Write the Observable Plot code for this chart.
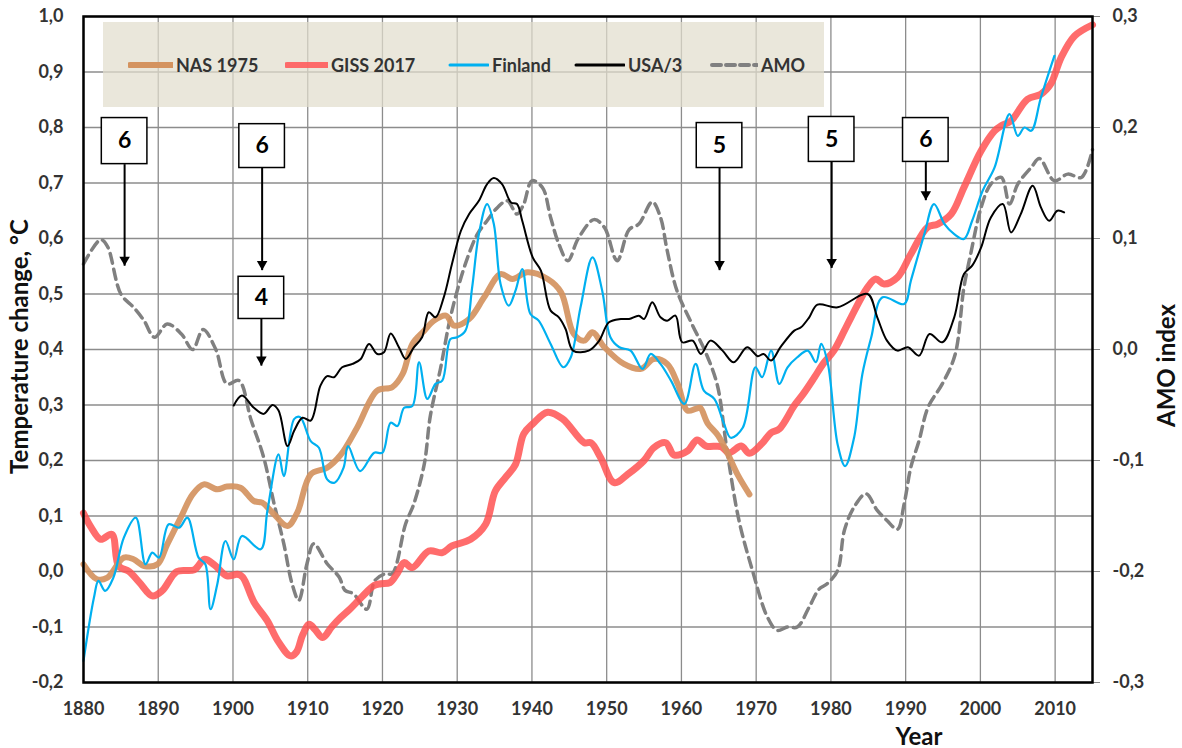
<!DOCTYPE html>
<html><head><meta charset="utf-8">
<script src="https://cdn.jsdelivr.net/npm/d3@7"></script>
<script src="https://cdn.jsdelivr.net/npm/@observablehq/plot@0.6"></script>
<style>
body{margin:0;background:#fff;font-family:Lato,sans-serif;}
#wrap{position:relative;width:1182px;height:748px;}
#legend{position:absolute;left:103px;top:22px;width:721px;height:85px;background:rgba(226,222,205,0.72);}
.item{position:absolute;top:32px;height:22px;display:flex;align-items:center;font:bold 18px Lato,sans-serif;color:#333;white-space:nowrap;}
.item svg{display:block;margin-right:3px;}
</style></head>
<body><div id="wrap"><div id="chart"></div><div id="legend"></div></div>
<script>
// ---- Data ----
const nasYear = [1880,1881.8,1883.2,1885.4,1886.7,1888.1,1889.9,1891.2,1893,1894.6,1896.1,1897.9,1899.2,1901,1902.8,1903.9,1905.3,1907.3,1908.6,1910.4,1912.6,1914.4,1916.6,1919.3,1921.3,1922.7,1924,1925.6,1926.9,1928.5,1929.6,1931.6,1933.6,1935.8,1937.4,1939.4,1942.1,1943.9,1945.6,1947,1948.1,1949.7,1952.3,1954.6,1956.3,1958.1,1959.5,1960.8,1961.9,1962.5,1963.5,1964.9,1966.2,1967.5,1969.1];
const nasTemp = [0.013,-0.014,-0.011,0.025,0.022,0.01,0.013,0.049,0.097,0.139,0.157,0.148,0.153,0.151,0.127,0.124,0.106,0.082,0.106,0.175,0.187,0.21,0.259,0.326,0.332,0.356,0.41,0.434,0.452,0.461,0.443,0.455,0.494,0.536,0.527,0.539,0.527,0.503,0.428,0.416,0.431,0.404,0.374,0.365,0.383,0.374,0.338,0.29,0.293,0.295,0.267,0.245,0.212,0.175,0.139];

const gissYear = [1880,1881,1882.3,1883.8,1884.7,1886.1,1887.5,1889.2,1890.5,1892.5,1894.8,1896.2,1897.5,1899.2,1900.6,1901.3,1902.8,1904.6,1906,1907.7,1908.5,1909.3,1910.2,1911,1912,1913.2,1914.4,1915.7,1917.3,1918.9,1919.8,1921,1922,1922.9,1924,1926.2,1928,1929.3,1931.8,1933.8,1935.1,1936.5,1937.8,1938.9,1940.1,1942.1,1944.1,1947,1947.9,1949.2,1951,1952.8,1955,1956.3,1957.9,1959,1960.8,1962.1,1963.3,1965.3,1966.4,1968,1969.1,1970.8,1972,1973.1,1975.1,1976.3,1977.8,1979,1980.4,1981.8,1982.7,1984.9,1986,1987.1,1988.9,1990.7,1992.9,1994.3,1996.1,1997.8,2000.1,2001.9,2002.8,2004.1,2006.3,2008.1,2009.4,2010.8,2012.6,2015];
const gissTemp = [0.105,0.08,0.058,0.067,0.01,0.0,-0.02,-0.044,-0.035,0.0,0.003,0.022,0.012,-0.008,-0.005,-0.01,-0.055,-0.089,-0.125,-0.152,-0.145,-0.115,-0.095,-0.105,-0.119,-0.1,-0.083,-0.067,-0.045,-0.025,-0.022,-0.02,-0.003,0.016,0.007,0.037,0.034,0.046,0.058,0.085,0.145,0.17,0.193,0.248,0.266,0.287,0.275,0.232,0.232,0.205,0.16,0.175,0.2,0.223,0.232,0.21,0.217,0.237,0.226,0.225,0.214,0.226,0.213,0.231,0.25,0.257,0.299,0.32,0.35,0.375,0.398,0.434,0.458,0.512,0.527,0.518,0.53,0.572,0.62,0.626,0.644,0.692,0.758,0.794,0.803,0.812,0.851,0.86,0.878,0.926,0.965,0.985];

const finYear = [1880,1881.4,1882,1882.9,1884,1885.4,1887,1888.3,1889.2,1890.1,1891.4,1892.8,1893.9,1895.4,1896.3,1897,1897.9,1899,1900.1,1901.2,1903.7,1904.6,1906.1,1906.8,1908.2,1909,1910.4,1911.5,1912.6,1913.6,1914.8,1915.4,1917,1918.9,1920,1921.1,1922,1922.9,1924,1924.9,1926,1927.1,1928,1929.1,1930,1931.1,1932,1932.9,1934,1934.9,1935.8,1936.9,1937.8,1938.7,1939.8,1940.9,1942.5,1944.2,1945.2,1946.5,1948.1,1949.4,1950.5,1951.7,1953.2,1954.8,1955.9,1957.2,1958.6,1960.4,1961.9,1963,1964.4,1965.7,1966.6,1968.2,1969.9,1970.8,1972,1973.1,1974.2,1975.5,1976.9,1978,1978.7,1979.6,1980.9,1981.9,1983.1,1984.2,1985.4,1986.9,1989.8,1990.7,1992.5,1993.8,1995.2,1996.5,1997.8,1998.9,2000.3,2001.9,2003.9,2005,2005.9,2006.8,2008.1,2009.9];
const finTemp = [-0.161,-0.047,-0.017,-0.035,-0.011,0.061,0.097,0.013,0.034,0.025,0.085,0.079,0.097,0.025,0.013,-0.068,-0.023,0.055,0.022,0.064,0.04,0.109,0.211,0.172,0.275,0.278,0.235,0.223,0.166,0.16,0.187,0.226,0.181,0.214,0.214,0.268,0.262,0.295,0.298,0.377,0.311,0.338,0.344,0.419,0.422,0.434,0.512,0.608,0.662,0.626,0.518,0.479,0.506,0.545,0.464,0.452,0.41,0.368,0.386,0.476,0.566,0.506,0.422,0.404,0.398,0.365,0.392,0.374,0.344,0.302,0.374,0.326,0.311,0.266,0.241,0.259,0.368,0.35,0.398,0.338,0.368,0.386,0.398,0.377,0.41,0.374,0.229,0.19,0.241,0.355,0.422,0.494,0.482,0.524,0.608,0.662,0.626,0.608,0.599,0.632,0.686,0.728,0.824,0.785,0.8,0.794,0.854,0.929];

const usaYear = [1900.1,1901.2,1902.8,1904.1,1905.3,1906.1,1907.3,1908.2,1909.3,1910.4,1911.7,1912.6,1913.5,1914.6,1916,1917.1,1918.2,1919.3,1920.2,1921.1,1922.2,1923.1,1924.2,1925.3,1926.2,1927.1,1928.2,1929.3,1930.5,1931.6,1932.9,1934,1934.9,1936,1937.2,1938,1938.7,1940.1,1941.2,1942.5,1943.6,1944.5,1945.5,1947.6,1949,1950.3,1951.9,1953,1954.3,1955,1956.1,1957.2,1958.1,1959.2,1960.1,1961.5,1962.6,1963.9,1965.5,1967,1968.8,1970.2,1971,1972,1973.3,1975.1,1976,1977.1,1978.2,1980.9,1984.9,1986.2,1987.5,1988.9,1990.3,1991.8,1993.2,1994.9,1996.5,1997.8,1998.9,2000.1,2001.4,2003,2004.1,2005.4,2007,2008.1,2009.2,2010.3,2011.2];
const usaTemp = [0.299,0.317,0.295,0.284,0.3,0.29,0.226,0.254,0.277,0.272,0.335,0.352,0.35,0.368,0.374,0.383,0.41,0.392,0.395,0.429,0.404,0.383,0.404,0.422,0.467,0.458,0.494,0.554,0.614,0.644,0.668,0.698,0.709,0.698,0.665,0.662,0.632,0.566,0.542,0.47,0.458,0.437,0.398,0.398,0.416,0.449,0.455,0.455,0.461,0.455,0.485,0.458,0.452,0.461,0.413,0.416,0.392,0.416,0.398,0.377,0.404,0.388,0.392,0.38,0.405,0.434,0.44,0.458,0.481,0.476,0.5,0.458,0.416,0.398,0.404,0.389,0.428,0.413,0.458,0.536,0.551,0.584,0.638,0.662,0.611,0.644,0.695,0.656,0.632,0.65,0.647];

const amoYear = [1880,1882.3,1883.2,1885,1886.7,1888.1,1889.5,1891.2,1893.1,1894.6,1896,1897.7,1899.2,1900.8,1902.4,1904.1,1905.5,1906.8,1907.9,1908.8,1909.9,1910.8,1912.6,1914.2,1915,1916.1,1917.9,1919,1920.4,1921.3,1923.1,1924.2,1925.6,1926.4,1927.8,1928.9,1930,1931.4,1932.7,1934,1935.4,1936.7,1938,1938.9,1940,1941.4,1942.5,1943.6,1944.8,1946.2,1948.3,1949.7,1951.4,1953,1954.3,1956.1,1957.2,1958.1,1959.4,1961.4,1963.2,1964.8,1966.1,1967.7,1969.5,1971.5,1972.8,1974.2,1975.5,1977.1,1978.4,1979.5,1980.9,1981.8,1983.1,1984.7,1986.2,1987.5,1988.9,1989.8,1990.7,1991.8,1993,1994.9,1996.6,1997.8,1998.7,2000.1,2001.4,2002.8,2003.9,2005,2006.8,2007.9,2009.9,2011.7,2013.5,2015];
const amoIndex = [0.077,0.099,0.093,0.05,0.038,0.026,0.011,0.023,0.014,0.0,0.018,0.0,-0.031,-0.028,-0.063,-0.097,-0.139,-0.175,-0.211,-0.226,-0.193,-0.175,-0.193,-0.205,-0.217,-0.22,-0.234,-0.208,-0.202,-0.202,-0.157,-0.139,-0.103,-0.06,-0.016,0.023,0.053,0.083,0.104,0.116,0.128,0.134,0.122,0.131,0.152,0.146,0.119,0.095,0.08,0.1,0.117,0.11,0.08,0.108,0.113,0.133,0.119,0.089,0.053,0.023,-0.002,-0.032,-0.091,-0.154,-0.199,-0.241,-0.253,-0.25,-0.25,-0.232,-0.216,-0.211,-0.199,-0.163,-0.142,-0.13,-0.145,-0.154,-0.162,-0.139,-0.106,-0.082,-0.052,-0.031,-0.005,0.056,0.086,0.128,0.149,0.155,0.131,0.149,0.164,0.172,0.152,0.158,0.155,0.18];

// tick labels
const xTicks = [1880,1890,1900,1910,1920,1930,1940,1950,1960,1970,1980,1990,2000,2010];
const yTicks = [-0.2,-0.1,0.0,0.1,0.2,0.3,0.4,0.5,0.6,0.7,0.8,0.9,1.0];
const amoTicks = [-0.3,-0.2,-0.1,0.0,0.1,0.2,0.3];

// annotation boxes: label, year, box top/bottom and arrow tip (temperature units)
const noteLabel = ["6","6","4","5","5","6"];
const noteYear  = [1885.5,1903.9,1903.8,1965.1,1980.1,1992.7];
const noteTop   = [0.817,0.806,0.531,0.808,0.819,0.817];
const noteBot   = [0.734,0.727,0.455,0.727,0.738,0.738];
const noteTip   = [0.551,0.543,0.371,0.543,0.547,0.669];

// ---- build tables ----
const mk = (xs, ys) => xs.map((x, i) => ({year: x, v: ys[i]}));
const nas = mk(nasYear, nasTemp), giss = mk(gissYear, gissTemp), fin = mk(finYear, finTemp),
      usa = mk(usaYear, usaTemp), amo = mk(amoYear, amoIndex);
const amoToLeft = a => 2 * a + 0.4;   // right axis (-0.3..0.3) onto left axis (-0.2..1.0)
const notes = noteLabel.map((l, i) => ({label: l, year: noteYear[i], top: noteTop[i], bot: noteBot[i], tip: noteTip[i]}));
const fmt = v => d3.format(".1f")(v).replace(".", ",").replace("\u2212", "-");

const series = [
  {name: "NAS 1975", color: "#d4935f", width: 6, left: 128, len: 45},
  {name: "GISS 2017", color: "#ff5c5c", width: 6, left: 285, len: 43},
  {name: "Finland", color: "#00b0f0", width: 3, left: 448, len: 41},
  {name: "USA/3", color: "#000000", width: 3, left: 574, len: 51},
  {name: "AMO", color: "#808080", width: 4, left: 710, len: 48, dash: "9,5"}
];

const chart = Plot.plot({
  width: 1182, height: 748,
  marginLeft: 83, marginRight: 90, marginTop: 16, marginBottom: 66,
  style: {fontFamily: "Lato, sans-serif", fontWeight: "bold", fontSize: "18px", color: "#333", background: "white", overflow: "visible"},
  x: {domain: [1880, 2015]},
  y: {domain: [-0.2, 1.0]},
  marks: [
    Plot.gridX(xTicks, {stroke: "#8c8c8c", strokeOpacity: 1, strokeWidth: 1.3}),
    Plot.gridY(yTicks, {stroke: "#8c8c8c", strokeOpacity: 1, strokeWidth: 1.3}),
    Plot.line(amo, {x: "year", y: d => amoToLeft(d.v), stroke: "#808080", strokeWidth: 3.5, strokeDasharray: "10,6", curve: "catmull-rom"}),
    Plot.line(giss, {x: "year", y: "v", stroke: "#ff5252", strokeOpacity: 0.85, strokeWidth: 7, curve: "catmull-rom", strokeLinecap: "round"}),
    Plot.line(nas, {x: "year", y: "v", stroke: "#d4935f", strokeOpacity: 0.92, strokeWidth: 6, curve: "catmull-rom", strokeLinecap: "round"}),
    Plot.line(fin, {x: "year", y: "v", stroke: "#00b0f0", strokeWidth: 2.2, curve: "catmull-rom"}),
    Plot.line(usa, {x: "year", y: "v", stroke: "#000", strokeWidth: 2, curve: "catmull-rom"}),
    Plot.axisX(xTicks, {tickSize: 0, tickPadding: 20, tickFormat: d => String(d), label: null, fontSize: 18, fill: "#333"}),
    Plot.axisY(yTicks, {anchor: "left", tickSize: 0, tickPadding: 20, tickFormat: fmt, label: null, fontSize: 18, fill: "#333"}),
    Plot.axisY(amoTicks.map(amoToLeft), {anchor: "right", tickSize: 7, tickPadding: 13, stroke: "#888", tickFormat: v => fmt((v - 0.4) / 2), label: null, fontSize: 18, fill: "#333"}),
    Plot.frame({stroke: "#000", strokeWidth: 2.5}),
    // annotations
    Plot.link(notes, {x1: "year", x2: "year", y1: "bot", y2: "tip", stroke: "#000", strokeWidth: 2}),
    Plot.dot(notes, {x: "year", y: "tip", symbol: "triangle", rotate: 180, r: 3.9, fill: "#000", stroke: "none", dy: -6}),
    Plot.rect(notes, {x1: d => d.year - 3.05, x2: d => d.year + 3.05, y1: "bot", y2: "top", fill: "white", stroke: "#000", strokeWidth: 1.5}),
    Plot.text(notes, {x: "year", y: d => (d.top + d.bot) / 2, text: "label", fontSize: 23, fontWeight: "bold", fill: "#000"}),
    // axis titles
    Plot.text(["Temperature change, °C"], {frameAnchor: "left", dx: -63, dy: -3, rotate: -90, fontSize: 24, fontWeight: "bold", fill: "#111", lineAnchor: "middle", textAnchor: "middle"}),
    Plot.text(["AMO index"], {frameAnchor: "right", dx: 75, dy: 16, rotate: -90, fontSize: 24, fontWeight: "bold", fill: "#111", lineAnchor: "middle", textAnchor: "middle"}),
    Plot.text(["Year"], {frameAnchor: "bottom", dx: 331, dy: 55, fontSize: 24, fontWeight: "bold", fill: "#111", lineAnchor: "middle", textAnchor: "middle"})
  ]
});
document.getElementById("chart").appendChild(chart);

// legend
const legend = document.getElementById("legend");
for (const s of series) {
  const it = document.createElement("div");
  it.className = "item";
  it.style.left = (s.left - 103) + "px";
  const h = 10;
  it.innerHTML = `<svg width="${s.len}" height="${h}"><line x1="2" x2="${s.len - 1}" y1="${h/2}" y2="${h/2}" stroke="${s.color}" stroke-width="${s.width}" stroke-linecap="round" ${s.dash ? `stroke-dasharray="${s.dash}" stroke-linecap="butt"` : ""} ${s.name === "GISS 2017" ? 'stroke-opacity="0.9"' : ""}/></svg><span>${s.name}</span>`;
  legend.appendChild(it);
}
</script></body></html>
